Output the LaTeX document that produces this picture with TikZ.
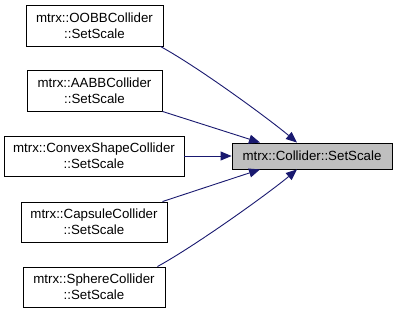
\documentclass[tikz,border=0pt]{standalone}
\usepackage{fontspec}
\setmainfont{Liberation Sans}
\usetikzlibrary{arrows.meta}
\definecolor{edgeblue}{RGB}{25,25,112}
\definecolor{boxgray}{RGB}{191,191,191}
\begin{document}
\begin{tikzpicture}[x=1pt,y=-1pt,
  fn/.style={draw=black,line width=0.9pt,fill=white,align=center,inner sep=0pt,
    font=\fontsize{13.3}{16}\selectfont},
  focus/.style={fn,fill=boxgray},
  edge/.style={draw=edgeblue,line width=0.9pt,-{Triangle[length=11pt,width=9pt]}}]
\useasboundingbox (0,0) rectangle (397,313);
\fill[white] (0,0) rectangle (397,313);

\node[fn,minimum width=137pt,minimum height=41pt] (b1) at (94.5,25.5) {mtrx::OOBBCollider\\::SetScale};
\node[fn,minimum width=135pt,minimum height=41pt] (b2) at (94.5,90.5) {mtrx::AABBCollider\\::SetScale};
\node[fn,minimum width=180pt,minimum height=40pt] (b3) at (94,156) {mtrx::ConvexShapeCollider\\::SetScale};
\node[fn,minimum width=146pt,minimum height=40pt] (b4) at (94,222) {mtrx::CapsuleCollider\\::SetScale};
\node[fn,minimum width=142pt,minimum height=40pt] (b5) at (94,287) {mtrx::SphereCollider\\::SetScale};
\node[focus,minimum width=160pt,minimum height=26pt] (t) at (312,156) {mtrx::Collider::SetScale};

\draw[edge] ([xshift=-3pt]b1.south east) .. controls +(40,22) and +(-26,-22) .. ([xshift=-15pt]t.north);
\draw[edge] (b2.south east) -- ([xshift=-52pt]t.north);
\draw[edge] (b3.east) -- (t.west);
\draw[edge] ([xshift=-5pt]b4.north east) -- ([xshift=-52pt]t.south);
\draw[edge] ([xshift=-8pt]b5.north east) .. controls +(40,-22) and +(-26,22) .. ([xshift=-15pt]t.south);
\end{tikzpicture}
\end{document}
